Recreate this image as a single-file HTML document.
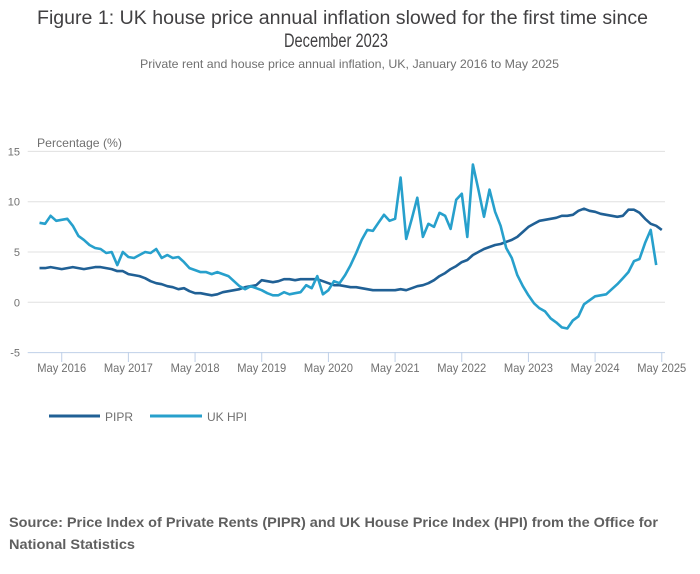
<!DOCTYPE html>
<html><head><meta charset="utf-8">
<style>
body{margin:0;background:#fff;}
svg{display:block;font-family:"Liberation Sans",sans-serif;}
</style></head>
<body>
<svg id="chart" width="700" height="574" viewBox="0 0 700 574">
<text x="342.5" y="24" text-anchor="middle" font-size="19" fill="#414042" textLength="611" lengthAdjust="spacingAndGlyphs">Figure 1: UK house price annual inflation slowed for the first time since</text>
<text x="336" y="47" text-anchor="middle" font-size="19" fill="#414042" textLength="104" lengthAdjust="spacingAndGlyphs">December 2023</text>
<text x="349.5" y="68" text-anchor="middle" font-size="12" fill="#707070" textLength="419" lengthAdjust="spacingAndGlyphs">Private rent and house price annual inflation, UK, January 2016 to May 2025</text>
<text x="37" y="147" font-size="12" fill="#707070" textLength="85" lengthAdjust="spacingAndGlyphs">Percentage (%)</text>
<g id="grid"></g>
<g id="xaxis"></g>
<g id="series"></g>
<g>
<line x1="49" y1="416" x2="100" y2="416" stroke="#206095" stroke-width="3"/>
<text x="105" y="421" font-size="12" fill="#707070">PIPR</text>
<line x1="150" y1="416" x2="202" y2="416" stroke="#27a0cc" stroke-width="3"/>
<text x="207" y="421" font-size="12" fill="#707070">UK HPI</text>
</g>
<text x="9" y="527" font-size="14" font-weight="bold" fill="#5f5f5f" textLength="649" lengthAdjust="spacingAndGlyphs">Source: Price Index of Private Rents (PIPR) and UK House Price Index (HPI) from the Office for</text>
<text x="9" y="549" font-size="14" font-weight="bold" fill="#5f5f5f" textLength="126" lengthAdjust="spacingAndGlyphs">National Statistics</text>
</svg>
<script>
const yTicks=[15,10,5,0,-5];
const xTickLabels=["May 2016","May 2017","May 2018","May 2019","May 2020","May 2021","May 2022","May 2023","May 2024","May 2025"];
const xTickMonths=[4,16,28,40,52,64,76,88,100,112];
const pipr=[3.4,3.4,3.5,3.4,3.3,3.4,3.5,3.4,3.3,3.4,3.5,3.5,3.4,3.3,3.1,3.1,
2.8,2.7,2.6,2.4,2.1,1.9,1.8,1.6,1.5,1.3,1.4,1.1,0.9,0.9,0.8,0.7,
0.8,1.0,1.1,1.2,1.3,1.5,1.6,1.7,2.2,2.1,2.0,2.1,2.3,2.3,2.2,2.3,
2.3,2.3,2.3,2.1,1.9,1.7,1.7,1.6,1.5,1.5,1.4,1.3,1.2,1.2,1.2,1.2,
1.2,1.3,1.2,1.4,1.6,1.7,1.9,2.2,2.6,2.9,3.3,3.6,4.0,4.2,4.7,5.0,
5.3,5.5,5.7,5.8,6.0,6.2,6.5,7.0,7.5,7.8,8.1,8.2,8.3,8.4,8.6,8.6,
8.7,9.1,9.3,9.1,9.0,8.8,8.7,8.6,8.5,8.6,9.2,9.2,8.9,8.3,7.8,7.6,7.2];
const hpi=[7.9,7.8,8.6,8.1,8.2,8.3,7.6,6.6,6.2,5.7,5.4,5.3,4.9,5.0,3.7,5.0,
4.5,4.4,4.7,5.0,4.9,5.3,4.4,4.7,4.4,4.5,4.0,3.4,3.2,3.0,3.0,2.8,
3.0,2.8,2.6,2.1,1.6,1.3,1.6,1.4,1.2,0.9,0.7,0.7,1.0,0.8,0.9,1.0,
1.7,1.4,2.6,0.8,1.2,2.1,1.9,2.7,3.7,4.9,6.2,7.2,7.1,7.9,8.7,8.1,
8.3,12.4,6.3,8.3,10.4,6.5,7.8,7.5,8.9,8.6,7.3,10.2,10.8,6.5,13.7,11.2,
8.5,11.2,9.0,7.6,5.4,4.4,2.7,1.6,0.7,-0.1,-0.6,-0.9,-1.6,-2.0,-2.5,-2.6,
-1.8,-1.4,-0.2,0.2,0.6,0.7,0.8,1.3,1.8,2.4,3.0,4.1,4.3,5.9,7.2,3.7];
const NS='http://www.w3.org/2000/svg';
const x=m=>39.5+m*5.556;
const y=v=>302.3-v*10.06;
const grid=document.getElementById('grid');
yTicks.forEach(t=>{
  const l=document.createElementNS(NS,'line');
  l.setAttribute('x1',27.7);l.setAttribute('x2',665);
  l.setAttribute('y1',y(t));l.setAttribute('y2',y(t));
  l.setAttribute('stroke',t===-5?'#bfd0e8':'#e0e0e0');l.setAttribute('stroke-width',1);
  
  
  grid.appendChild(l);
  const tx=document.createElementNS(NS,'text');
  tx.setAttribute('x',20);tx.setAttribute('y',y(t)+4);
  tx.setAttribute('text-anchor','end');tx.setAttribute('font-size','11');tx.setAttribute('fill','#707070');
  tx.textContent=t;
  
  
  grid.appendChild(tx);
});
const xa=document.getElementById('xaxis');
xTickMonths.forEach((m,i)=>{
  const l=document.createElementNS(NS,'line');
  l.setAttribute('x1',x(m));l.setAttribute('x2',x(m));
  l.setAttribute('y1',352);l.setAttribute('y2',362);
  l.setAttribute('stroke','#bfd0e8');
  
  
  xa.appendChild(l);
  const tx=document.createElementNS(NS,'text');
  tx.setAttribute('x',x(m));tx.setAttribute('y',372);
  tx.setAttribute('text-anchor','middle');tx.setAttribute('font-size','12');tx.setAttribute('fill','#707070');
  tx.setAttribute('textLength','49');tx.setAttribute('lengthAdjust','spacingAndGlyphs');
  tx.textContent=xTickLabels[i];
  
  
  xa.appendChild(tx);
});
const sg=document.getElementById('series');
function drawLine(vals,color,name){
  const p=document.createElementNS(NS,'polyline');
  p.setAttribute('points',vals.map((v,i)=>x(i).toFixed(1)+','+y(v).toFixed(1)).join(' '));
  p.setAttribute('fill','none');p.setAttribute('stroke',color);p.setAttribute('stroke-width',2.6);
  p.setAttribute('stroke-linejoin','round');
  
  
  sg.appendChild(p);
}
drawLine(pipr,'#206095','pipr-line');
drawLine(hpi,'#27a0cc','uk-hpi-line');
</script>
</body></html>
